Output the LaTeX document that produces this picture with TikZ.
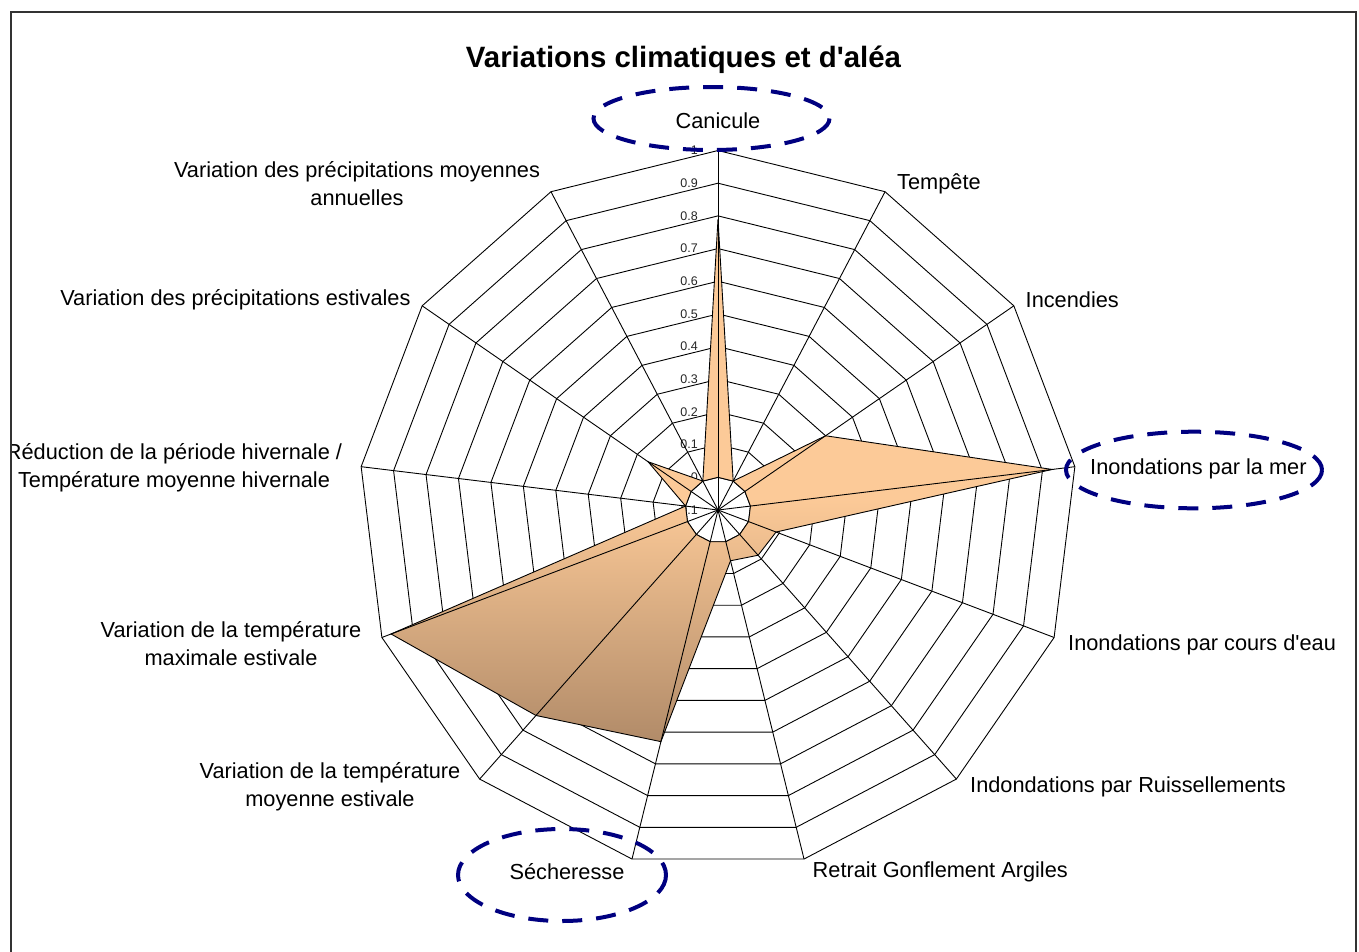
\documentclass[tikz,border=0pt]{standalone}
\usepackage{fontspec}
\setmainfont{Liberation Sans}
\usetikzlibrary{positioning}

\definecolor{navyline}{RGB}{0,0,128}
\definecolor{areatop}{RGB}{252,202,152}
\definecolor{areabottom}{RGB}{176,138,104}

\tikzset{
  axislabel/.style={font=\fontsize{21.75}{28}\selectfont,align=center,inner sep=0pt,text=black},
  ticklabel/.style={font=\fontsize{12.5}{14}\selectfont,anchor=east,inner sep=0pt,text=black!85},
  gridline/.style={black,line width=0.9pt},
  circled/.style={navyline,line width=4pt,dash pattern=on 20pt off 14pt},
}

\begin{document}
\begin{tikzpicture}[x=1pt,y=-1pt]
\useasboundingbox (0,0) rectangle (1359,951);
\begin{scope}
\clip (11.5,12.5) rectangle (1355,980);
\node[font=\fontsize{29.4}{34}\selectfont\bfseries] (title) at (683.5,60) {Variations climatiques et d\textquotesingle aléa};

\begin{scope}[shift={(718,510)}]
% rings
\foreach \i in {1,...,11}
  \draw[gridline] (-90:{\i*32.68}) \foreach \k in {1,...,12}{ -- ({\k*360/13-90}:{\i*32.68}) } -- cycle;
\foreach \t [count=\i from 0] in {-0.1,0,0.1,0.2,0.3,0.4,0.5,0.6,0.7,0.8,0.9,1}
  \node[ticklabel] (tick\i) at (-20,{-\i*32.68}) {\t};
% values
\foreach \v [count=\k from 0] in {0.79,0,0.3,0.93,0.09,0.085,0.06,0.63,0.74,0.97,0,0.16,0}
  \coordinate (d\k) at ({\k*360/13-90}:{(\v+0.1)*326.8});
\begin{scope}[even odd rule]
\clip
  (d0) \foreach \k in {1,...,12}{ -- (d\k) } -- cycle
  (-90:32.68) \foreach \k in {1,...,12}{ -- ({\k*360/13-90}:32.68) } -- cycle;
\fill[areatop] (-400,-300) rectangle (400,0);
\shade[top color=areatop,bottom color=areabottom] (-400,-12) rectangle (400,236);
\end{scope}
\draw[black,line width=0.9pt]
  (d0) \foreach \k in {1,...,12}{ -- (d\k) } -- cycle
  (-90:32.68) \foreach \k in {1,...,12}{ -- ({\k*360/13-90}:32.68) } -- cycle;
% spokes
\coordinate (c) at (0,0);
\foreach \k in {0,...,12}
  \draw[gridline] (c) -- ({\k*360/13-90}:359.5);
\end{scope}

\node[axislabel] (canicule) at (718,121) {Canicule};
\node[axislabel,anchor=west] (tempete) at (897,184) {Tempête};
\node[axislabel,anchor=west] (incendies) at (1025.5,300) {Incendies};
\node[axislabel,anchor=west] (mer) at (1090,469) {Inondations par la mer};
\node[axislabel,anchor=west] (coursdeau) at (1068,645) {Inondations par cours d\textquotesingle eau};
\node[axislabel,anchor=west] (ruissellements) at (970,787) {Indondations par Ruissellements};
\node[axislabel,anchor=west] (argiles) at (812.5,872) {Retrait Gonflement Argiles};
\node[axislabel] (secheresse) at (567,872) {Sécheresse};
\node[axislabel] (tempmoy) at (330,787) {Variation de la température\\moyenne estivale};
\node[axislabel] (tempmax) at (231,644) {Variation de la température\\maximale estivale};
\node[axislabel] (reduction) at (174,467.5) {Réduction de la période hivernale /\\Température moyenne hivernale};
\node[axislabel,anchor=east] (precipest) at (410.7,300) {Variation des précipitations estivales};
\node[axislabel] (precipann) at (357,184) {Variation des précipitations moyennes\\annuelles};

\draw[circled] (711.5,118.5) ellipse [x radius=118, y radius=31.5];
\draw[circled] (1194,470) ellipse [x radius=128, y radius=38.3];
\draw[circled] (562,875) ellipse [x radius=104, y radius=46];
\end{scope}

\draw[line width=2pt,black!80] (10.5,11.5) rectangle (1356,985);
\end{tikzpicture}
\end{document}
